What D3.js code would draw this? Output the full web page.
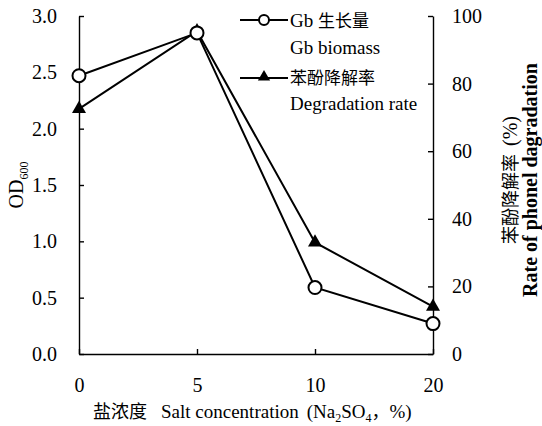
<!DOCTYPE html>
<html lang="en">
<head>
  <meta charset="UTF-8">
  <title>Salt concentration</title>
  <style>
    body { margin: 0; background: #fff; }
  </style>
</head>
<body>
  <script src="https://d3js.org/d3.v7.min.js"></script>
  <script>
    const salt = ['0', '5', '10', '20'];
    const biomass = [2.47, 2.85, 0.59, 0.27];
    const degradation = [72.5, 95.5, 33, 14];
    const odTicks = [0, 0.5, 1, 1.5, 2, 2.5, 3];
    const rateTicks = [0, 20, 40, 60, 80, 100];

    const [width, height] = [542, 426];
    const margin = { top: 16, left: 79, bottom: 72, right: 109 };
    const serif = "'Liberation Serif', 'DejaVu Serif', serif";
    const cjk = "'Noto Sans CJK SC', sans-serif";

    let svg = d3.select('body').append('svg').attr('width', width).attr('height', height)
      .style('font-family', serif);

    let x = d3.scalePoint().domain(salt).range([margin.left, width - margin.right]);
    let yL = d3.scaleLinear().domain([0, 3]).range([height - margin.bottom, margin.top]);
    let yR = d3.scaleLinear().domain([0, 100]).range([height - margin.bottom, margin.top]);

    // axes, ticks point inward
    let gx = svg.append('g')
      .attr('transform', `translate(0, ${height - margin.bottom})`)
      .call(d3.axisBottom(x).tickSizeInner(-5).tickSizeOuter(0).tickPadding(24));
    let gl = svg.append('g')
      .attr('transform', `translate(${margin.left}, 0)`)
      .call(d3.axisLeft(yL).tickValues(odTicks).tickFormat(d3.format('.1f')).tickSizeInner(-5).tickSizeOuter(0).tickPadding(22));
    let gr = svg.append('g')
      .attr('transform', `translate(${width - margin.right}, 0)`)
      .call(d3.axisRight(yR).tickValues(rateTicks).tickSizeInner(-5).tickSizeOuter(0).tickPadding(19));
    [gx, gl, gr].forEach(g => {
      g.attr('font-family', serif).attr('font-size', 20);
      g.selectAll('path, line').attr('stroke', '#000').attr('stroke-width', 1.4);
    });

    // lines
    let lineL = d3.line().x((d, i) => x(salt[i])).y(d => yL(d));
    let lineR = d3.line().x((d, i) => x(salt[i])).y(d => yR(d));
    svg.append('path').datum(biomass).attr('d', lineL)
      .attr('fill', 'none').attr('stroke', '#000').attr('stroke-width', 2);
    svg.append('path').datum(degradation).attr('d', lineR)
      .attr('fill', 'none').attr('stroke', '#000').attr('stroke-width', 2);

    const tri = d3.symbol().type(d3.symbolTriangle).size(85);

    svg.append('g').selectAll('path')
      .data(degradation).enter().append('path')
      .attr('d', tri)
      .attr('transform', (d, i) => `translate(${x(salt[i])}, ${yR(d)})`)
      .attr('fill', '#000');
    svg.append('g').selectAll('circle')
      .data(biomass).enter().append('circle')
      .attr('cx', (d, i) => x(salt[i]))
      .attr('cy', d => yL(d))
      .attr('r', 6.5)
      .attr('fill', '#fff').attr('stroke', '#000').attr('stroke-width', 2);

    // legend
    let lg = svg.append('g').attr('transform', 'translate(240, 0)');
    lg.append('line').attr('x1', 0).attr('x2', 48).attr('y1', 20).attr('y2', 20).attr('stroke', '#000').attr('stroke-width', 2);
    lg.append('circle').attr('cx', 24).attr('cy', 20).attr('r', 5).attr('fill', '#fff').attr('stroke', '#000').attr('stroke-width', 2);
    lg.append('text').attr('x', 50).attr('y', 27).style('font-size', '19px')
      .html(`Gb <tspan style="font-family:${cjk};font-size:17px">生长量</tspan>`);
    lg.append('text').attr('x', 50).attr('y', 54).style('font-size', '19px').text('Gb biomass');
    lg.append('line').attr('x1', 0).attr('x2', 48).attr('y1', 78).attr('y2', 78).attr('stroke', '#000').attr('stroke-width', 2);
    lg.append('path').attr('d', d3.symbol().type(d3.symbolTriangle).size(65)).attr('transform', 'translate(24, 77)').attr('fill', '#000');
    lg.append('text').attr('x', 50).attr('y', 84).style('font-family', cjk).style('font-size', '17px').text('苯酚降解率');
    lg.append('text').attr('x', 50).attr('y', 110).style('font-size', '19px').text('Degradation rate');

    // axis titles
    svg.append('text')
      .attr('transform', `translate(23, ${yL(1.5)}) rotate(-90)`)
      .attr('text-anchor', 'middle').style('font-size', '20px')
      .html('OD<tspan dy="5" style="font-size:12px">600</tspan>');
    svg.append('text')
      .attr('transform', `translate(517, 180) rotate(-90)`)
      .attr('text-anchor', 'middle').style('font-size', '20px')
      .html(`<tspan style="font-family:${cjk};font-size:18px">苯酚降解率</tspan><tspan dx="8">(%)</tspan>`);
    svg.append('text')
      .attr('transform', `translate(537, 180) rotate(-90)`)
      .attr('text-anchor', 'middle').style('font-size', '20px').style('font-weight', 'bold')
      .text('Rate of phonel dagradation');
    svg.append('text')
      .attr('x', 93).attr('y', 418)
      .style('font-size', '19px')
      .html(`<tspan style="font-family:${cjk};font-size:18px">盐浓度</tspan><tspan dx="14">Salt concentration</tspan><tspan dx="8">(Na</tspan><tspan dy="4" style="font-size:12px">2</tspan><tspan dy="-4">SO</tspan><tspan dy="4" style="font-size:12px">4</tspan><tspan dy="-4" style="font-family:${cjk};font-size:18px">，</tspan><tspan>%)</tspan>`);
  </script>
</body>
</html>
